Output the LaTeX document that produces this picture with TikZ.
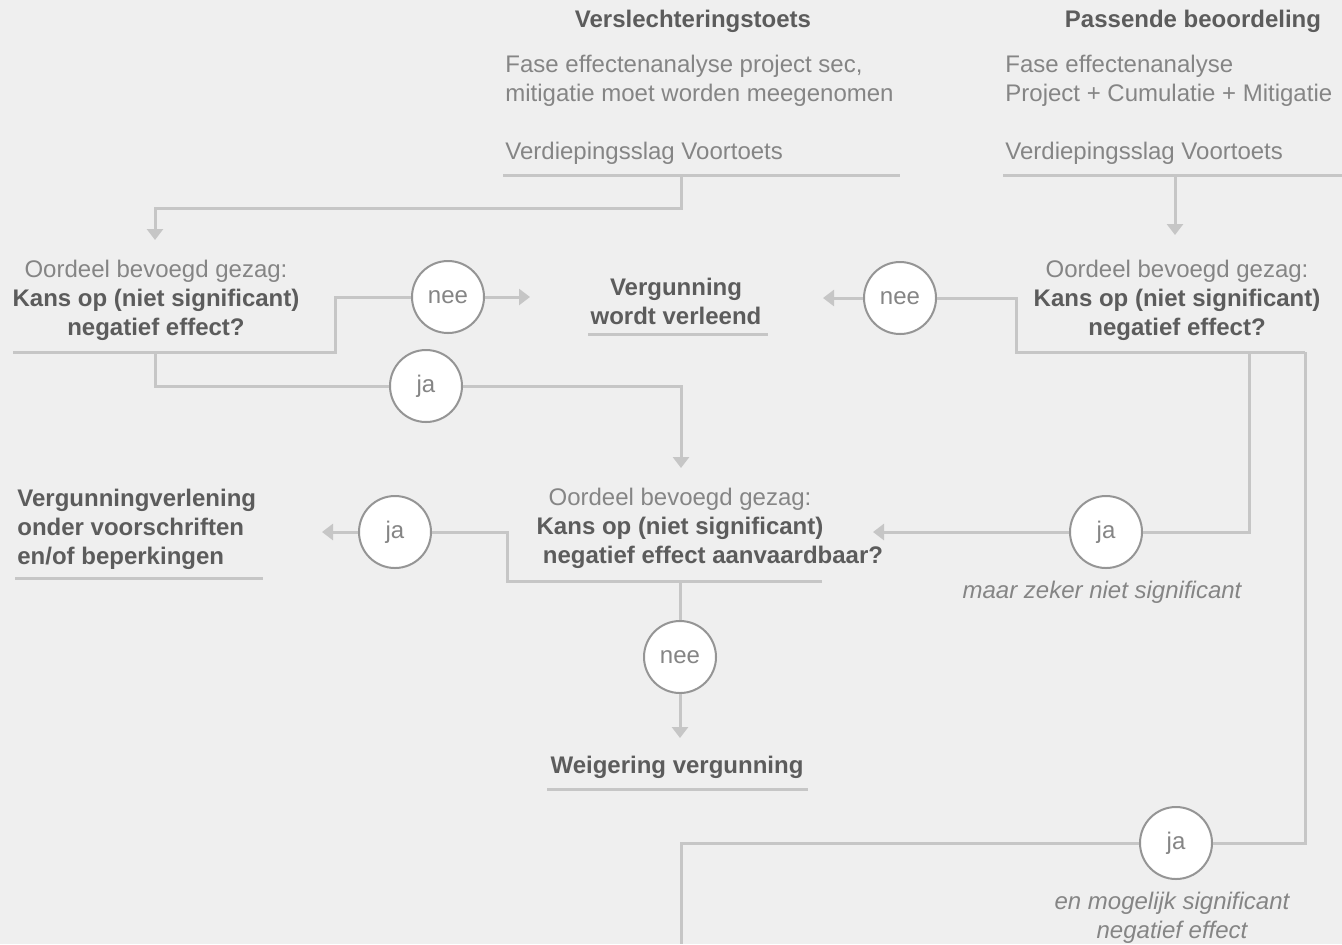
\documentclass[tikz,border=0pt]{standalone}
\usepackage{fontspec}
\setmainfont{Liberation Sans}
\usetikzlibrary{arrows.meta}

\definecolor{achtergrond}{HTML}{EFEFEF}
\definecolor{lijngrijs}{HTML}{C6C6C6}
\definecolor{randgrijs}{HTML}{959595}
\definecolor{tekstlicht}{HTML}{858585}
\definecolor{tekstdonker}{HTML}{5C5C5C}
\newcommand{\vetregel}[1]{\textcolor{tekstdonker}{\bfseries #1}}

\tikzset{
  lijn/.style={draw=lijngrijs,line width=1.5pt},
  pijl/.style={lijn,-{Triangle[width=8pt,length=5.5pt]}},
  tekst/.style={inner sep=0pt,font=\fontsize{12}{14.5}\selectfont,text=tekstlicht},
  vet/.style={tekst,font=\fontsize{12}{14.5}\selectfont\bfseries,text=tekstdonker},
  cursief/.style={tekst,font=\fontsize{12}{14.5}\selectfont\itshape},
  keuze/.style={circle,draw=randgrijs,line width=1pt,fill=white,minimum size=36pt,inner sep=0pt,
    font=\fontsize{12}{14.5}\selectfont,text=tekstlicht}
}

\begin{document}
\begin{tikzpicture}[x=0.5pt,y=-0.5pt]
      \fill[achtergrond] (0,0) rectangle (1342,944);
      \useasboundingbox (0,0) rectangle (1342,944);
      \node[vet] (vtitel) at (693,21) {Verslechteringstoets};
      \node[tekst,align=left,anchor=west] (vfase) at (505,81) {Fase effectenanalyse project sec,\\mitigatie moet worden meegenomen};
      \node[tekst,anchor=west] (vdiep) at (505,153) {Verdiepingsslag Voortoets};
      \draw[lijn] (503,175) -- (900,175);
      \coordinate (vonder) at (681,175);
      \coordinate (vraag1in) at (155,240);
      \draw[pijl] (vonder) -- ++(0,33) -| (vraag1in);
      \node[vet] (ptitel) at (1193,21) {Passende beoordeling};
      \node[tekst,align=left,anchor=west] (pfase) at (1005,81) {Fase effectenanalyse\\Project + Cumulatie + Mitigatie};
      \node[tekst,anchor=west] (pdiep) at (1005,153) {Verdiepingsslag Voortoets};
      \draw[lijn] (1003,175) -- (1342,175);
      \coordinate (ponder) at (1175,175);
      \coordinate (vraag2in) at (1175,235);
      \draw[pijl] (ponder) -- (vraag2in);
      \node[tekst,align=center] (vraag1) at (156,300) {Oordeel bevoegd gezag:\\\vetregel{Kans op (niet significant)}\\\vetregel{negatief effect?}};
      \coordinate (v1links) at (13,352);
      \coordinate (v1midden) at (155,352);
      \coordinate (v1rechts) at (335,352);
      \node[keuze] (nee1) at (448,297) {nee};
      \coordinate (nee1uit) at (530,297);
      \draw[lijn] (v1links) -- (v1rechts) |- (nee1);
      \draw[pijl] (nee1) -- (nee1uit);
      \node[keuze] (ja1) at (426,386) {ja};
      \coordinate (vraag3in) at (681,468);
      \draw[lijn] (v1midden) |- (ja1);
      \draw[pijl] (ja1) -| (vraag3in);
      \node[vet,align=center] (verleend) at (676,301) {Vergunning\\wordt verleend};
      \draw[lijn] (588,334) -- (768,334);
      \node[tekst,align=center] (vraag2) at (1177,300) {Oordeel bevoegd gezag:\\\vetregel{Kans op (niet significant)}\\\vetregel{negatief effect?}};
      \coordinate (v2links) at (1016,352);
      \coordinate (v2midden) at (1249,352);
      \coordinate (v2rechts) at (1305,352);
      \node[keuze] (nee2) at (900,298) {nee};
      \coordinate (nee2uit) at (823,298);
      \draw[lijn] (v2rechts) -- (v2links) |- (nee2);
      \draw[pijl] (nee2) -- (nee2uit);
      \node[keuze] (ja2) at (1106,532) {ja};
      \coordinate (ja2uit) at (873,532);
      \draw[lijn] (v2midden) |- (ja2);
      \draw[pijl] (ja2) -- (ja2uit);
      \node[cursief] (ja2tekst) at (1102,592) {maar zeker niet significant};
      \node[keuze] (ja3) at (1176,843) {ja};
      \coordinate (ja3uit) at (681,944);
      \draw[lijn] (v2rechts) |- (ja3);
      \draw[lijn] (ja3) -| (ja3uit);
      \node[cursief,align=center] (ja3tekst) at (1172,918) {en mogelijk significant\\negatief effect};
      \node[tekst,align=center] (vraag3) at (680,528) {Oordeel bevoegd gezag:\\\vetregel{Kans op (niet significant)}\\\hspace*{33pt}\vetregel{negatief effect aanvaardbaar?}};
      \coordinate (v3links) at (507,581);
      \coordinate (v3midden) at (680,581);
      \coordinate (v3rechts) at (822,581);
      \node[keuze] (ja4) at (395,532) {ja};
      \coordinate (ja4uit) at (322,532);
      \draw[lijn] (v3rechts) -- (v3links) |- (ja4);
      \draw[pijl] (ja4) -- (ja4uit);
      \node[keuze] (nee3) at (680,657) {nee};
      \coordinate (nee3uit) at (680,738);
      \draw[lijn] (v3midden) -- (nee3);
      \draw[pijl] (nee3) -- (nee3uit);
      \node[vet] (weigering) at (677,767) {Weigering vergunning};
      \draw[lijn] (547,789) -- (808,789);
      \node[vet,align=left,anchor=west] (voorschriften) at (17,529) {Vergunningverlening\\onder voorschriften\\en/of beperkingen};
      \draw[lijn] (15,578) -- (263,578);
    \end{tikzpicture}
\end{document}
